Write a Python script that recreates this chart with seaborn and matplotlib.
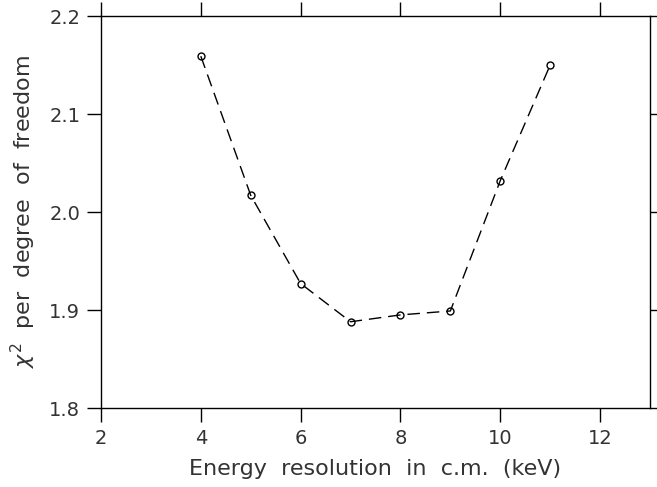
import matplotlib
matplotlib.use("Agg")
import matplotlib.pyplot as plt
import seaborn as sns
import pandas as pd

energy_res = [4, 5, 6, 7, 8, 9, 10, 11]
chi2_dof = [2.159, 2.017, 1.927, 1.888, 1.895, 1.899, 2.032, 2.150]
x_ticks = [2, 4, 6, 8, 10, 12]
y_ticks = [1.8, 1.9, 2.0, 2.1, 2.2]
x_label = "Energy  resolution  in  c.m.  (keV)"
y_label = r"$\chi^2$  per  degree  of  freedom"

sns.set_style("ticks")
plt.rcParams['font.family'] = ['DejaVu Sans']
plt.rcParams['mathtext.fontset'] = 'dejavusans'

fig = plt.figure(figsize=(6.57, 4.87), dpi=100)
ax = fig.add_axes([101/657, 1 - 408/487, 549/657, 392/487])

df = pd.DataFrame({"x": energy_res, "y": chi2_dof})
sns.lineplot(data=df, x="x", y="y", ax=ax, color="black", linewidth=1.0,
             marker="o", markersize=5, markerfacecolor="none",
             markeredgecolor="black", markeredgewidth=1.0,
             dashes=False, linestyle=(0, (9, 5)))

ax.set_xlim(2, 13)
ax.set_ylim(1.8, 2.2)
ax.set_xticks(x_ticks)
ax.set_yticks(y_ticks)
ax.set_yticklabels([f"{v:.1f}" for v in y_ticks])
ax.tick_params(which="both", direction="out", length=10, width=1.0, color="black",
               top=True, right=True, labelsize=14, pad=5, labelcolor="#333333")
for s in ax.spines.values():
    s.set_visible(True)
    s.set_linewidth(1.0)
    s.set_color("black")
ax.set_xlabel(x_label, fontsize=16, color="#333333", labelpad=8)
ax.set_ylabel(y_label, fontsize=16, color="#333333", labelpad=8)

fig.savefig("out.png", dpi=100)
